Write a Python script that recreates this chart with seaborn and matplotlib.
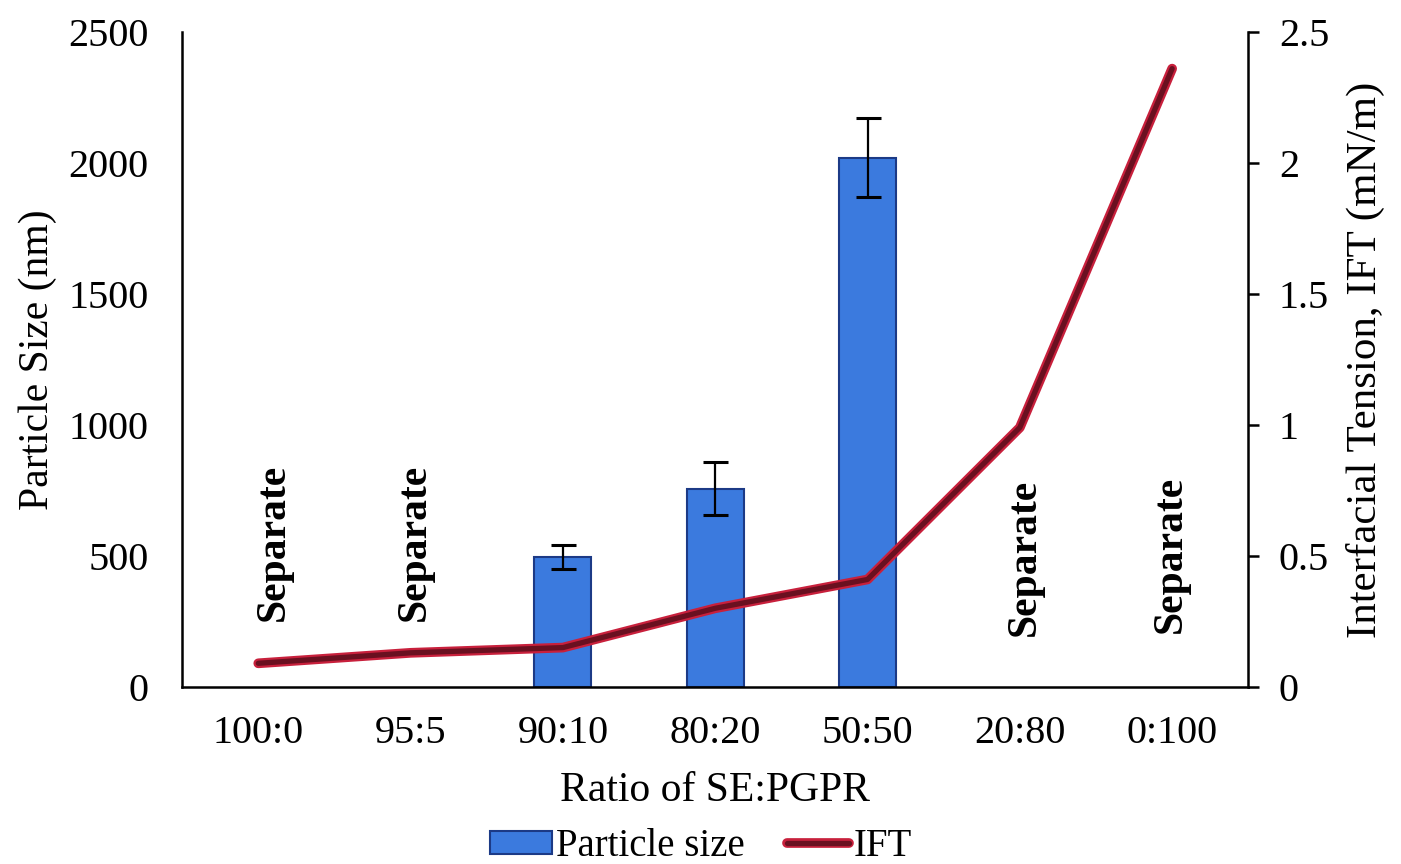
import numpy as np
import pandas as pd
import seaborn as sns
import matplotlib.pyplot as plt
from matplotlib.patches import Patch
from matplotlib.lines import Line2D
from matplotlib.legend_handler import HandlerTuple

# data
ratios = ['100:0', '95:5', '90:10', '80:20', '50:50', '20:80', '0:100']
size_ratios = ['90:10', '80:20', '50:50']
particle_size = [495, 757, 2020]
size_err = [45, 100, 150]
ift = [0.09, 0.13, 0.15, 0.30, 0.41, 0.99, 2.36]
sep_ratios = ['100:0', '95:5', '20:80', '0:100']

sns.set_style('white')
plt.rcParams['font.family'] = ['Liberation Serif', 'DejaVu Serif']
for k in ['text.color', 'axes.labelcolor', 'xtick.color', 'ytick.color']:
    plt.rcParams[k] = 'black'
FS = 29

fig = plt.figure(figsize=(14.01, 8.64), dpi=100)
ax = fig.add_axes([0.130, 0.205, 0.761, 0.758])

df = pd.DataFrame({'ratio': size_ratios, 'size': particle_size})
sns.barplot(data=df, x='ratio', y='size', order=ratios, width=0.375,
            color='#3b7ade', edgecolor='#1c3a86', linewidth=1.5,
            saturation=1, errorbar=None, ax=ax)
pos = [ratios.index(r) for r in size_ratios]
ax.errorbar(pos, particle_size, yerr=size_err, fmt='none', ecolor='black',
            elinewidth=1.6, capsize=9, capthick=2.2, zorder=5)

ax.set_ylim(0, 2500)
ax.set_yticks(np.arange(0, 2501, 500))
ax.set_xlim(-0.5, 6.5)
ax.set_xlabel('Ratio of SE:PGPR', fontsize=FS + 1, labelpad=14)
ax.set_ylabel('Particle Size (nm)', fontsize=FS + 1, labelpad=8)
ax.tick_params(axis='x', length=0, pad=20, labelsize=FS)
ax.tick_params(axis='y', length=0, pad=24, labelsize=FS)
for s in ['top', 'right']:
    ax.spines[s].set_visible(False)
for s in ['left', 'bottom']:
    ax.spines[s].set_color('black')
    ax.spines[s].set_linewidth(1.8)

# "Separate" labels for phase-separated ratios
sep_dx = [0.1, 0.03, 0.03, -0.01]
sep_y = [553, 553, 496, 504]
for r, dx, y in zip(sep_ratios, sep_dx, sep_y):
    ax.text(ratios.index(r) + dx, y, 'Separate', rotation=90, ha='center',
            va='center', fontsize=FS + 1, fontweight='bold')

ax2 = ax.twinx()
xs = np.arange(len(ratios))
sns.lineplot(x=xs, y=ift, color='#c8203c', linewidth=7, ax=ax2,
             solid_capstyle='round', solid_joinstyle='round')
sns.lineplot(x=xs, y=ift, color='#6a1020', linewidth=3.8, ax=ax2,
             solid_capstyle='round', solid_joinstyle='round')
ax2.set_ylim(0, 2.5)
ax2.set_yticks([0, 0.5, 1, 1.5, 2, 2.5])
ax2.set_yticklabels(['0', '0.5', '1', '1.5', '2', '2.5'])
ax2.set_ylabel('Interfacial Tension, IFT (mN/m)', fontsize=FS + 2, labelpad=12)
ax2.tick_params(axis='y', direction='out', length=8, width=1.8, pad=14,
                labelsize=FS, right=True)
for s in ['top', 'left', 'bottom']:
    ax2.spines[s].set_visible(False)
ax2.spines['right'].set_color('black')
ax2.spines['right'].set_linewidth(1.8)
ax2.set_xlim(-0.5, 6.5)

bar_h = Patch(facecolor='#3b7ade', edgecolor='#1c3a86', linewidth=1.5)
line_h = (Line2D([], [], color='#c8203c', linewidth=7),
          Line2D([], [], color='#6a1020', linewidth=3.8))
fig.legend([bar_h, line_h], ['Particle size', 'IFT'],
           handler_map={tuple: HandlerTuple(ndivide=1)},
           loc='center', bbox_to_anchor=(0.5, 0.02), ncol=2, frameon=False,
           fontsize=FS - 1, handlelength=1.6, handleheight=0.55,
           handletextpad=0.1, columnspacing=1.1)

fig.savefig('out.png', dpi=100)
